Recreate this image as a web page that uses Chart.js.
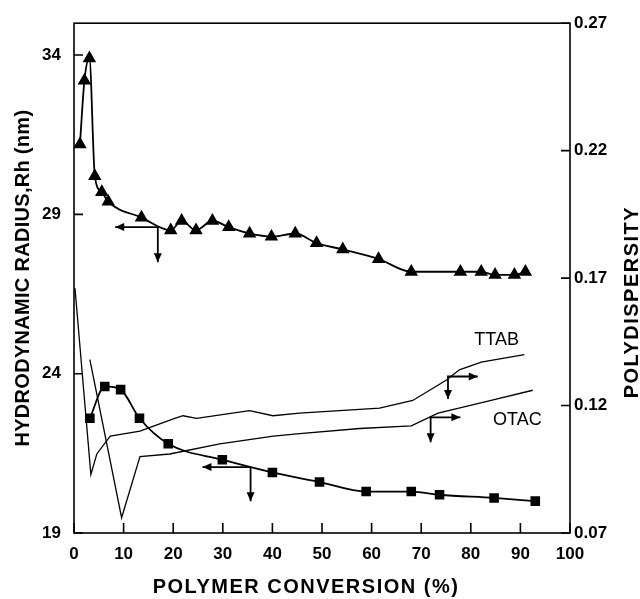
<!DOCTYPE html>
<html>
<head>
<meta charset="utf-8">
<script src="https://cdn.jsdelivr.net/npm/chart.js@4.4.1/dist/chart.umd.min.js"></script>
<style>
  html, body { margin: 0; padding: 0; background: #fff; }
  #wrap { width: 640px; height: 599px; }
</style>
</head>
<body>
<div id="wrap"><canvas id="rhChart"></canvas></div>
<script>
// hydrodynamic radius, triangles (left axis)
const triConv = [1.2, 2.1, 3.1, 4.2, 5.6, 6.9, 13.6, 19.5, 21.7, 24.6, 27.9, 31.2, 35.4, 39.8, 44.6, 48.9, 54.2, 61.4, 68.0, 77.9, 82.1, 84.9, 88.8, 91.0];
const triRh = [31.2, 33.2, 33.9, 30.2, 29.7, 29.4, 28.9, 28.5, 28.8, 28.5, 28.8, 28.6, 28.4, 28.3, 28.4, 28.1, 27.9, 27.6, 27.2, 27.2, 27.2, 27.1, 27.1, 27.2];

// hydrodynamic radius, squares (left axis)
const sqConv = [3.2, 6.2, 9.4, 13.2, 19.0, 29.9, 40.0, 49.5, 58.9, 68.0, 73.7, 84.7, 93.0];
const sqRh = [22.6, 23.6, 23.5, 22.6, 21.8, 21.3, 20.9, 20.6, 20.3, 20.3, 20.2, 20.1, 20.0];

// polydispersity (right axis)
const ttabConv = [0.2, 3.4, 4.6, 7.3, 13.3, 20.3, 22.0, 24.7, 35.4, 40.1, 45.5, 61.6, 68.3, 75.1, 77.7, 82.1, 90.8];
const ttabPd = [0.166, 0.093, 0.101, 0.108, 0.110, 0.115, 0.116, 0.115, 0.118, 0.116, 0.117, 0.119, 0.122, 0.130, 0.134, 0.137, 0.140];
const otacConv = [3.2, 9.6, 13.3, 19.3, 29.4, 40.2, 45.5, 57.6, 68.0, 73.4, 84.1, 92.5];
const otacPd = [0.138, 0.076, 0.100, 0.101, 0.105, 0.108, 0.109, 0.111, 0.112, 0.117, 0.122, 0.126];

// tick labels
const xTicks = [0, 10, 20, 30, 40, 50, 60, 70, 80, 90, 100];
const rhTicks = [19, 24, 29, 34];
const pdTicks = [0.07, 0.12, 0.17, 0.22, 0.27];

// arrows telling which axis a curve belongs to (data units)
const arrows = [
  { axis: 'y', x: 16.9, y: 28.6, toX: 8.3, toY: 27.5 },
  { axis: 'y', x: 35.6, y: 21.07, toX: 25.9, toY: 20.0 },
  { axis: 'y1', x: 75.4, y: 0.1314, toX: 81.4, toY: 0.1226 },
  { axis: 'y1', x: 71.9, y: 0.1154, toX: 77.9, toY: 0.1056 }
];
const curveLabels = [
  { text: 'TTAB', x: 85.2, y: 0.1457 },
  { text: 'OTAC', x: 89.4, y: 0.1145 }
];

const FONT = '"Liberation Sans", Arial, Helvetica, sans-serif';
const pts = (xs, ys) => xs.map((v, i) => ({ x: v, y: ys[i] }));

// letter spacing on the axis titles, and a nudge of the x title
const titleShift = { x: [-16, 0, '1.5px'], y: [0, 0, '0.3px'] };
const spacedTitles = {
  id: 'spacedTitles',
  afterLayout(chart) {
    for (const id in titleShift) {
      const s = chart.scales[id];
      if (!s || s.$patched) continue;
      const orig = s.drawTitle;
      s.drawTitle = function () {
        this.ctx.save();
        this.ctx.letterSpacing = titleShift[id][2];
        this.ctx.translate(titleShift[id][0], titleShift[id][1]);
        orig.call(this);
        this.ctx.restore();
      };
      s.$patched = true;
    }
  }
};

function head(ctx, x, y, dx, dy) {
  const L = 9, W = 4;
  ctx.beginPath();
  ctx.moveTo(x, y);
  ctx.lineTo(x - dx * L - dy * W, y - dy * L + dx * W);
  ctx.lineTo(x - dx * L + dy * W, y - dy * L - dx * W);
  ctx.closePath();
  ctx.fill();
}

// frame, inward ticks, arrows, curve labels, right title (reads bottom to top)
const extras = {
  id: 'extras',
  afterDraw(chart) {
    const { ctx, chartArea: a, scales: { x, y, y1 } } = chart;
    ctx.save();
    ctx.strokeStyle = '#000';
    ctx.fillStyle = '#000';
    ctx.lineWidth = 1.6;
    ctx.strokeRect(a.left, a.top, a.right - a.left, a.bottom - a.top);

    ctx.beginPath();
    xTicks.forEach(v => { const p = x.getPixelForValue(v); ctx.moveTo(p, a.bottom); ctx.lineTo(p, a.bottom - 10); });
    rhTicks.forEach(v => { const p = y.getPixelForValue(v); ctx.moveTo(a.left, p); ctx.lineTo(a.left + 9, p); });
    pdTicks.forEach(v => { const p = y1.getPixelForValue(v); ctx.moveTo(a.right, p); ctx.lineTo(a.right - 9, p); });
    ctx.stroke();

    ctx.lineWidth = 1.8;
    arrows.forEach(ar => {
      const s = chart.scales[ar.axis];
      const cx = x.getPixelForValue(ar.x), cy = s.getPixelForValue(ar.y);
      const hx = x.getPixelForValue(ar.toX), vy = s.getPixelForValue(ar.toY);
      ctx.beginPath();
      ctx.moveTo(hx, cy); ctx.lineTo(cx, cy); ctx.lineTo(cx, vy);
      ctx.stroke();
      head(ctx, hx, cy, Math.sign(hx - cx), 0);
      head(ctx, cx, vy, 0, 1);
    });

    ctx.font = '18px ' + FONT;
    ctx.textAlign = 'center';
    ctx.textBaseline = 'middle';
    curveLabels.forEach(l => ctx.fillText(l.text, x.getPixelForValue(l.x), y1.getPixelForValue(l.y)));

    const t = y1.options.title;
    ctx.font = 'bold 20px ' + FONT;
    ctx.letterSpacing = '1.5px';
    ctx.translate(chart.width - 8, (a.top + a.bottom) / 2 + 24);
    ctx.rotate(-Math.PI / 2);
    ctx.fillText(t.text, 0, 0);
    ctx.restore();
  }
};

const tickFont = { family: FONT, size: 17, weight: 'bold' };
const titleFont = { family: FONT, size: 20, weight: 'bold' };

new Chart(document.getElementById('rhChart'), {
  type: 'line',
  data: {
    datasets: [
      {
        label: 'Rh (triangles)', data: pts(triConv, triRh), yAxisID: 'y',
        borderColor: '#000', backgroundColor: '#000', borderWidth: 1.8,
        pointStyle: 'triangle', pointRadius: 6, cubicInterpolationMode: 'monotone'
      },
      {
        label: 'Rh (squares)', data: pts(sqConv, sqRh), yAxisID: 'y',
        borderColor: '#000', backgroundColor: '#000', borderWidth: 1.8,
        pointStyle: 'rect', pointRadius: 5.5, cubicInterpolationMode: 'monotone'
      },
      {
        label: 'TTAB', data: pts(ttabConv, ttabPd), yAxisID: 'y1',
        borderColor: '#000', borderWidth: 1.3, pointRadius: 0, tension: 0
      },
      {
        label: 'OTAC', data: pts(otacConv, otacPd), yAxisID: 'y1',
        borderColor: '#000', borderWidth: 1.3, pointRadius: 0, tension: 0
      }
    ]
  },
  options: {
    responsive: true,
    maintainAspectRatio: false,
    animation: false,
    layout: { padding: { top: 20, left: 0, right: 0, bottom: 0 } },
    plugins: { legend: { display: false }, tooltip: { enabled: false } },
    scales: {
      x: {
        type: 'linear', position: 'bottom', min: 0, max: 100,
        afterBuildTicks: s => { s.ticks = xTicks.map(v => ({ value: v })); },
        afterFit: s => { s.height = 66; },
        grid: { display: false, drawTicks: false },
        border: { display: false },
        ticks: { font: tickFont, color: '#000', padding: 11, maxRotation: 0 },
        title: { display: true, text: 'POLYMER CONVERSION (%)', font: titleFont, color: '#000', padding: { top: 0, bottom: 0 } }
      },
      y: {
        type: 'linear', position: 'left', min: 19, max: 35,
        afterBuildTicks: s => { s.ticks = rhTicks.map(v => ({ value: v })); },
        afterFit: s => { s.width = 74; },
        grid: { display: false, drawTicks: false },
        border: { display: false },
        ticks: { font: tickFont, color: '#000', padding: 13 },
        title: { display: true, text: 'HYDRODYNAMIC RADIUS,Rh (nm)', font: titleFont, color: '#000', padding: { top: 11, bottom: 0 } }
      },
      y1: {
        type: 'linear', position: 'right', min: 0.07, max: 0.27,
        afterBuildTicks: s => { s.ticks = pdTicks.map(v => ({ value: v })); },
        afterFit: s => { s.width = 70; },
        grid: { display: false, drawTicks: false },
        border: { display: false },
        ticks: { font: tickFont, color: '#000', padding: 4, callback: v => v.toFixed(2) },
        title: { display: false, text: 'POLYDISPERSITY', font: titleFont, color: '#000' }
      }
    }
  },
  plugins: [spacedTitles, extras]
});
</script>
</body>
</html>
